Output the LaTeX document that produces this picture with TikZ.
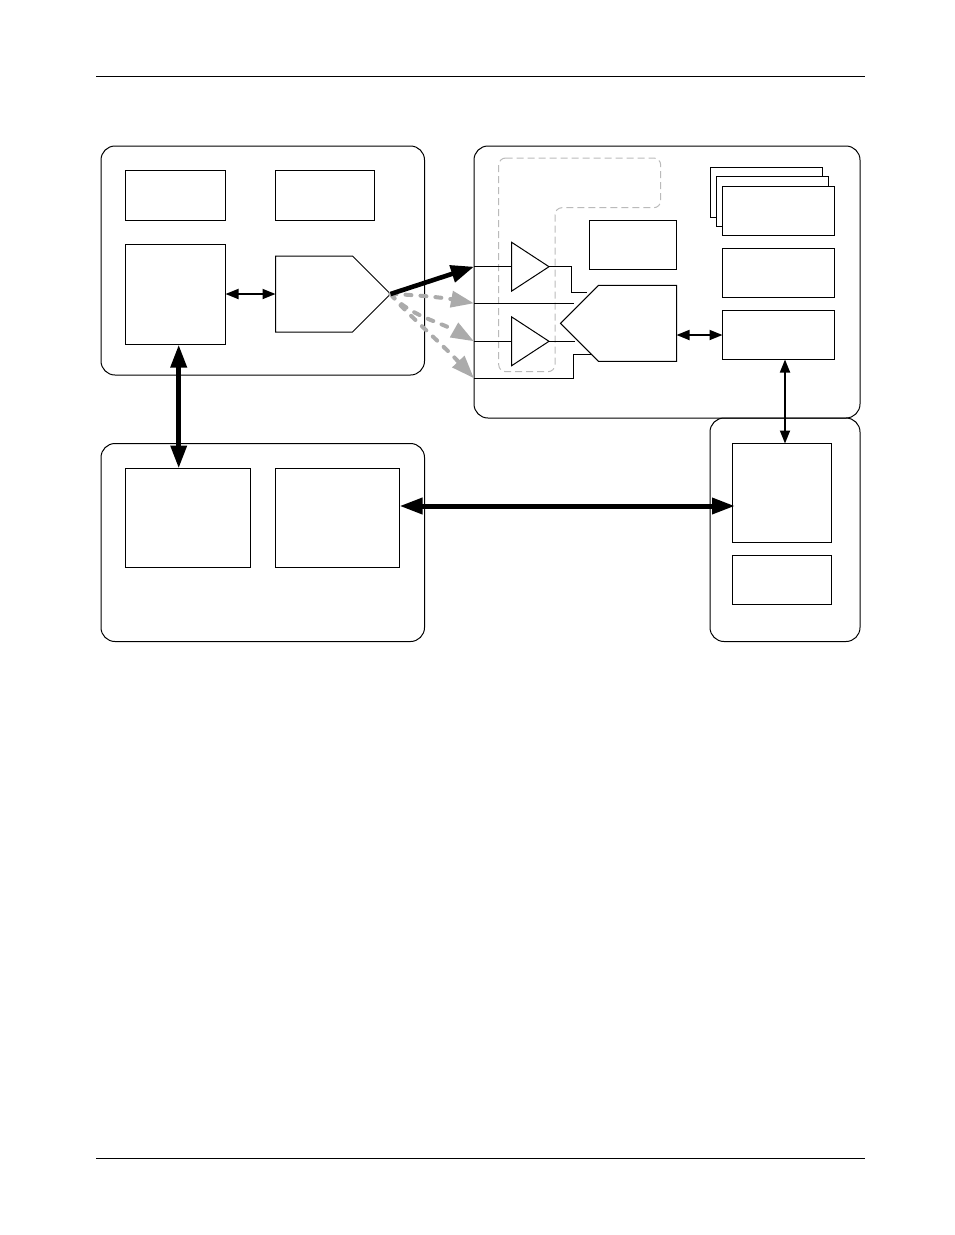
\documentclass[tikz,border=0pt]{standalone}
\usetikzlibrary{shapes.geometric,shapes.symbols,arrows.meta}

\tikzset{
  block/.style={draw,line width=1pt,rounded corners=14pt},
  unit/.style={draw,line width=1pt,fill=white,inner sep=0pt,outer sep=0pt,anchor=north west},
  amp/.style={draw,line width=1pt,fill=white,isosceles triangle,isosceles triangle apex angle=66.4,
    isosceles triangle stretches,minimum width=49pt,minimum height=37.5pt,inner sep=0pt,outer sep=0pt,anchor=apex},
  conv/.style={draw,line width=1pt,signal,signal pointer angle=90,inner sep=0pt,outer sep=0pt},
  wire/.style={line width=1pt},
  thinlink/.style={line width=1.8pt,{Triangle[length=13pt,width=10pt]}-{Triangle[length=13pt,width=10pt]}},
  boldlink/.style={line width=5pt,{Triangle[length=23pt,width=15.5pt]}-{Triangle[length=23pt,width=15.5pt]}},
  bus/.style={line width=4.6pt,-{Triangle[length=23pt,width=17pt]}},
  offbus/.style={color=black!33,line width=4pt,line cap=round,dash pattern=on 6pt off 9pt,-{Triangle[length=23pt,width=16pt]}}
}

\begin{document}
\begin{tikzpicture}[x=1pt,y=-1pt]
  \useasboundingbox (0,0) rectangle (954,1235);

  % page rules
  \coordinate (ruleA) at (96,76);
  \coordinate (ruleB) at (864.5,76);
  \coordinate (ruleC) at (96,1158.5);
  \coordinate (ruleD) at (864.5,1158.5);
  \draw[wire] (ruleA) -- (ruleB);
  \draw[wire] (ruleC) -- (ruleD);

  % outer blocks
  \draw[block] (101,146) rectangle (424.5,375);
  \draw[block] (474,146) rectangle (860,418);
  \draw[block] (101,443.5) rectangle (424.5,641.5);
  \draw[block] (710,418) rectangle (860,641.5);

  % dashed region
  \draw[color=black!27,line width=1pt,dash pattern=on 7pt off 4pt,rounded corners=7pt]
    (498.7,158) -- (660.7,158) -- (660.7,207.7) -- (555,207.7) -- (555,371.7) -- (498.7,371.7) -- cycle;

  % top left block
  \node[unit,minimum width=100pt,minimum height=50pt] (ctlA) at (125.5,170.5) {};
  \node[unit,minimum width=99pt,minimum height=50pt] (ctlB) at (275.5,170.5) {};
  \node[unit,minimum width=100pt,minimum height=100pt] (core) at (125.5,244.5) {};
  \node[conv,signal to=east,minimum width=115pt,minimum height=76pt,anchor=west] (encode) at (275.5,294) {};

  % bottom left block
  \node[unit,minimum width=125pt,minimum height=99pt] (memA) at (125.5,468.5) {};
  \node[unit,minimum width=124pt,minimum height=99pt] (memB) at (275.5,468.5) {};

  % bottom right block
  \node[unit,minimum width=99pt,minimum height=99pt] (hostA) at (732.5,443.5) {};
  \node[unit,minimum width=99pt,minimum height=49pt] (hostB) at (732.5,555.5) {};

  % top right block
  \node[unit,minimum width=87pt,minimum height=49pt] (ctlC) at (589.5,220.5) {};
  \node[unit,minimum width=112pt,minimum height=50pt] (stackC) at (710.5,167.5) {};
  \node[unit,minimum width=112pt,minimum height=50pt] (stackB) at (716.5,176.5) {};
  \node[unit,minimum width=112pt,minimum height=49pt] (stackA) at (722.5,186.5) {};
  \node[unit,minimum width=112pt,minimum height=49pt] (regs) at (722.5,248.5) {};
  \node[unit,minimum width=112pt,minimum height=49pt] (port) at (722.5,310.5) {};
  \node[amp] (ampA) at (549,266.7) {};
  \node[amp] (ampB) at (549,341.3) {};
  \node[conv,signal to=west,minimum width=116pt,minimum height=76pt,anchor=east] (decode) at (676.5,323.3) {};

  % inputs and wires
  \coordinate (inA) at (474,266.7);
  \coordinate (inB) at (474,303.3);
  \coordinate (inC) at (474,341.3);
  \coordinate (inD) at (474,378.3);
  \coordinate (decA) at (587.3,292.3);
  \coordinate (decB) at (574,303.3);
  \coordinate (decC) at (575,341.3);
  \coordinate (decD) at (590.7,354.3);
  \draw[wire] (inA) -- (ampA.lower side |- inA);
  \draw[wire] (ampA.apex) -- (571.3,266.7) -- (571.3,292.3) -- (decA);
  \draw[wire] (inB) -- (decB);
  \draw[wire] (inC) -- (ampB.lower side |- inC);
  \draw[wire] (ampB.apex) -- (decC);
  \draw[wire] (inD) -- (573.3,378.3) -- (573.3,354.3) -- (decD);

  % links
  \draw[thinlink] (core.east |- encode) -- (encode.west);
  \draw[thinlink] (decode.east |- port) -- (port.west);
  \draw[thinlink] (785,359.5) -- (785,443.5);
  \draw[boldlink] (178.7,344.5) -- (178.7,468.5);
  \draw[boldlink] (memB.east |- 0,506) -- (735,506);

  % outgoing buses
  \draw[offbus] (encode.east) .. controls (420,295) and (445,298) .. (inB);
  \draw[offbus] (encode.east) .. controls (410,316) and (440,322) .. (inC);
  \draw[offbus] (encode.east) .. controls (405,312) and (440,342) .. (inD);
  \draw[bus] (encode.east) -- (inA);
\end{tikzpicture}
\end{document}
